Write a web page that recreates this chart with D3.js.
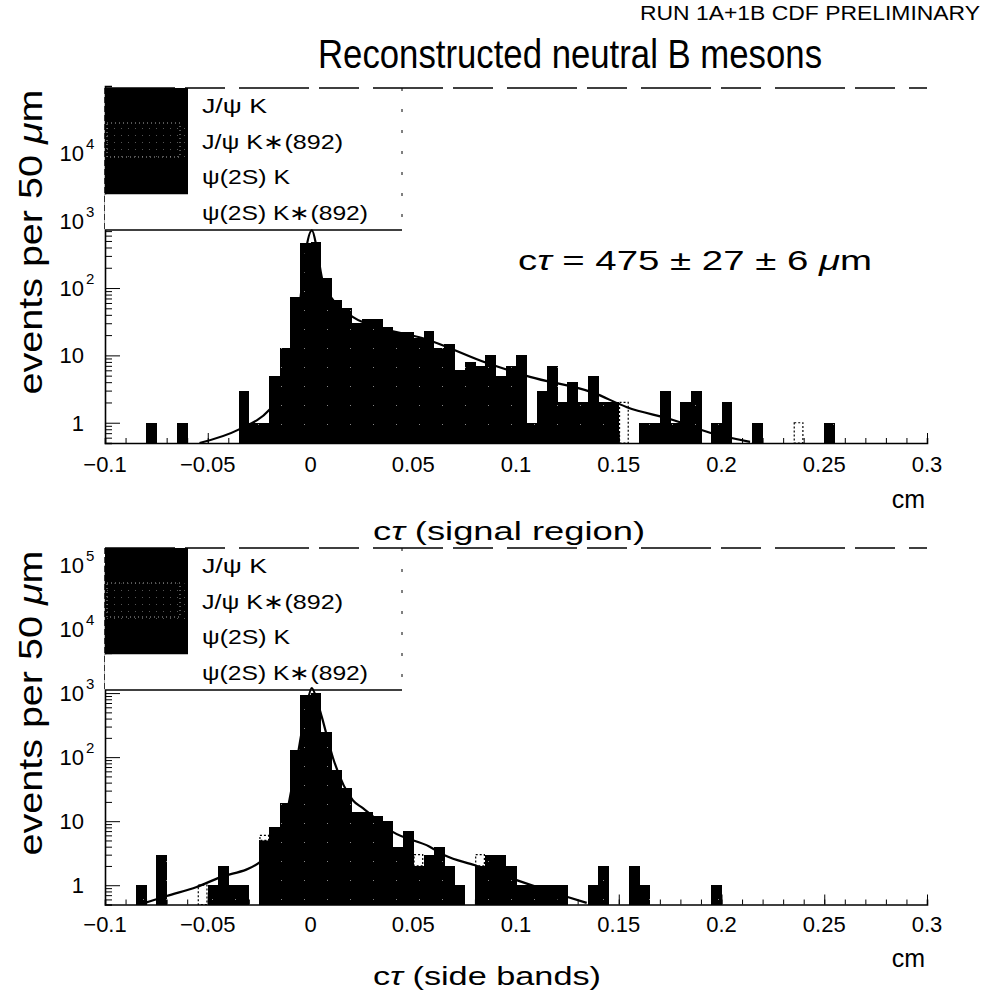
<!DOCTYPE html>
<html>
<head>
<meta charset="utf-8">
<script src="https://cdn.jsdelivr.net/npm/d3@7"></script>
<style>
body { margin: 0; background: #fff; }
svg { display: block; font-family: "Liberation Sans", Arial, sans-serif; }
</style>
</head>
<body>
<svg id="chart" width="984" height="998"></svg>
<script>
// 80 bins of 50 um (0.005 cm) from -0.1 to 0.3 cm
const binStart = -0.1, binWidth = 0.005;

const signalCounts = [
  0, 0, 0, 0, 1, 0, 0, 1, 0, 0,
  0, 0, 0, 3, 1, 1, 5, 13, 73, 460,
  480, 140, 66, 50, 30, 35, 35, 26, 22, 22,
  18, 23, 13, 15, 6, 8, 7, 10, 5, 7,
  10, 1, 3, 7, 2, 4, 2, 5, 2, 2,
  2, 0, 1, 1, 3, 1, 2, 3, 0, 1,
  2, 0, 0, 1, 0, 0, 0, 1, 0, 0,
  1, 0, 0, 0, 0, 0, 0, 0, 0, 0
];
const signalHollowBins = [50, 67];
const signalHollowCounts = [2, 1];

const sideCounts = [
  0, 0, 0, 1, 0, 3, 0, 0, 0, 1,
  1, 2, 1, 1, 0, 6, 8, 19, 130, 930,
  1000, 250, 63, 33, 14, 14, 12, 10, 4, 7,
  3, 3, 4, 2, 1, 0, 3, 3, 3, 2,
  1, 1, 1, 1, 1, 0, 0, 1, 2, 0,
  0, 2, 1, 0, 0, 0, 0, 0, 0, 1,
  0, 0, 0, 0, 0, 0, 0, 0, 0, 0,
  0, 0, 0, 0, 0, 0, 0, 0, 0, 0
];
const sideHollowBins = [9, 15, 30, 36];
const sideHollowCounts = [1, 1, 1, 1];

// fit curves
const signalFitX = [-0.054, -0.035, -0.02, -0.01, -0.005, -0.002, 0.0007, 0.003, 0.0056, 0.011, 0.0207, 0.0353, 0.0547, 0.0859, 0.1068, 0.1375, 0.154, 0.1764, 0.1944, 0.2139];
const signalFitY = [0.5, 0.79, 1.56, 4.3, 66, 400, 720, 400, 140, 66, 37, 25, 18, 7.7, 4.8, 2.8, 1.7, 1.1, 0.71, 0.52];
const sideFitX = [-0.0797, -0.07, -0.0554, -0.045, -0.0246, -0.015, -0.0075, -0.002, 0.0006, 0.003, 0.0055, 0.011, 0.0207, 0.0255, 0.04, 0.058, 0.0655, 0.08, 0.1003, 0.1247, 0.1344];
const sideFitY = [0.54, 0.68, 0.94, 1.29, 2.3, 5, 63, 600, 1200, 800, 426, 96, 21, 16, 6.8, 4.0, 2.9, 2.05, 1.2, 0.66, 0.53];

const xTicks = [-0.1, -0.05, 0, 0.05, 0.1, 0.15, 0.2, 0.25, 0.3];
const xTickLabels = ["\u22120.1", "\u22120.05", "0", "0.05", "0.1", "0.15", "0.2", "0.25", "0.3"];
const yDecades = [1, 10, 100, 1000, 10000, 100000];
const yLabelBase = ["1", "10", "10", "10", "10", "10"];
const yLabelExp = ["", "", "2", "3", "4", "5"];
const legendLabels = ["J/\u03c8 K", "J/\u03c8 K\u2217(892)", "\u03c8(2S) K", "\u03c8(2S) K\u2217(892)"];
const legendWidths = [65, 141, 88, 166];

const svg = d3.select('#chart');
const defs = svg.append('defs');

// black with very sparse white specks (scanned look of the stacked fill)
let speck = defs.append('pattern').attr('id', 'speck')
  .attr('patternUnits', 'userSpaceOnUse').attr('width', 23).attr('height', 19);
speck.append('rect').attr('width', 23).attr('height', 19).attr('fill', '#000');
speck.append('rect').attr('x', 5).attr('y', 6).attr('width', 1).attr('height', 1).attr('fill', '#888');

let dots = defs.append('pattern').attr('id', 'dots')
  .attr('patternUnits', 'userSpaceOnUse').attr('width', 7).attr('height', 7);
dots.append('rect').attr('width', 7).attr('height', 7).attr('fill', '#000');
dots.append('rect').attr('x', 2).attr('y', 2).attr('width', 1).attr('height', 1).attr('fill', '#555');

const x = d3.scaleLinear().domain([-0.1, 0.3]).range([105, 927]);

svg.append('text').attr('x', 980).attr('y', 20).attr('text-anchor', 'end')
  .attr('font-size', 20).attr('textLength', 340).attr('lengthAdjust', 'spacingAndGlyphs')
  .text('RUN 1A+1B CDF PRELIMINARY');
svg.append('text').attr('x', 570).attr('y', 68).attr('text-anchor', 'middle')
  .attr('font-size', 40).attr('textLength', 504).attr('lengthAdjust', 'spacingAndGlyphs')
  .text('Reconstructed neutral B mesons');

function drawPanel(p) {
  const y = d3.scaleLog().domain([0.5, 1e5]).range(p.yRange);
  const base = y(0.5);
  const g = svg.append('g');

  // histogram
  const bins = p.counts.map((c, i) => {
    const k = p.hollowBins.indexOf(i);
    const h = k >= 0 ? p.hollowCounts[k] : 0;
    return { i: i, lo: binStart + i * binWidth, c: c, solid: c - h, h: h };
  }).filter(d => d.c > 0);

  g.selectAll('.bar').data(bins.filter(d => d.solid > 0)).enter().append('rect')
    .attr('class', 'bar')
    .attr('x', d => x(d.lo))
    .attr('width', d => x(d.lo + binWidth) - x(d.lo) + 0.6)
    .attr('y', d => y(d.solid))
    .attr('height', d => base - y(d.solid))
    .attr('fill', 'url(#speck)')
    .attr('shape-rendering', 'crispEdges');

  g.selectAll('.hollow').data(bins.filter(d => d.h > 0)).enter().append('rect')
    .attr('class', 'hollow')
    .attr('x', d => x(d.lo) + 0.8)
    .attr('width', d => x(d.lo + binWidth) - x(d.lo) - 1.6)
    .attr('y', d => y(d.c))
    .attr('height', d => (d.solid > 0 ? y(d.solid) : base) - y(d.c))
    .attr('fill', '#fff').attr('stroke', '#000').attr('stroke-width', 1.2)
    .attr('stroke-dasharray', '2,2');

  // fit
  const fit = d3.zip(p.fitX, p.fitY);
  g.append('path').datum(fit)
    .attr('d', d3.line().x(d => x(d[0])).y(d => y(d[1])).curve(d3.curveMonotoneX))
    .attr('fill', 'none').attr('stroke', '#000').attr('stroke-width', 2.2);

  // x axis with ticks pointing up
  g.append('g').attr('transform', 'translate(0,' + base + ')')
    .call(d3.axisBottom(x).tickValues(d3.range(-0.1, 0.3001, 0.01)).tickSize(-5).tickFormat(''))
    .call(a => a.select('.domain').attr('stroke-width', 1.6));
  g.append('g').attr('transform', 'translate(0,' + base + ')')
    .call(d3.axisBottom(x).tickValues(xTicks).tickSize(-10).tickFormat(''))
    .call(a => a.select('.domain').remove());
  g.selectAll('.xlab').data(xTicks).enter().append('text')
    .attr('x', d => x(d)).attr('y', p.tickLabelY).attr('text-anchor', 'middle')
    .attr('font-size', 22).text((d, i) => xTickLabels[i]);

  // y axis on the left with ticks pointing inside
  const decades = yDecades.filter(v => v <= p.maxLabel);
  const minor = [];
  [0.1, 1, 10, 100, 1000, 10000].forEach(dv => d3.range(2, 10).forEach(m => {
    const v = dv * m;
    if (v > 0.5 && v < 1e5) minor.push(v);
  }));
  g.append('g').attr('transform', 'translate(105,0)')
    .call(d3.axisRight(y).tickValues(minor).tickSize(7).tickFormat(''))
    .call(a => a.select('.domain').attr('stroke-width', 1.6));
  g.append('g').attr('transform', 'translate(105,0)')
    .call(d3.axisRight(y).tickValues(decades).tickSize(15).tickFormat(''))
    .call(a => a.select('.domain').remove());
  decades.forEach((v, i) => {
    g.append('text').attr('x', 84).attr('y', y(v) + 8).attr('text-anchor', 'end')
      .attr('font-size', 22).text(yLabelBase[i]);
    if (yLabelExp[i]) {
      g.append('text').attr('x', 86).attr('y', y(v) - 4)
        .attr('font-size', 15).text(yLabelExp[i]);
    }
  });

  // frame top and legend
  g.append('line').attr('x1', 105).attr('x2', 927).attr('y1', p.frameTop).attr('y2', p.frameTop)
    .attr('stroke', '#000').attr('stroke-width', 1.5).attr('stroke-dasharray', '70,10,40,14');
  g.append('line').attr('x1', 105).attr('x2', 105).attr('y1', p.frameTop).attr('y2', p.frameTop + 4 * 35.5)
    .attr('stroke', '#000').attr('stroke-width', 1.4).attr('stroke-dasharray', '6,3');
  const rowH = 35.5;
  const fills = ['#000', 'url(#dots)', '#000', '#fff'];
  legendLabels.forEach((lab, i) => {
    const ry = p.frameTop + i * rowH;
    g.append('rect').attr('x', 105).attr('y', ry).attr('width', 83).attr('height', rowH + (i < 2 ? 0.5 : 0))
      .attr('fill', fills[i]);
    g.append('text').attr('x', 202).attr('y', ry + 25).attr('font-size', 21)
      .attr('textLength', legendWidths[i]).attr('lengthAdjust', 'spacingAndGlyphs').text(lab);
  });
  g.append('rect').attr('x', 107).attr('y', p.frameTop + 35).attr('width', 73).attr('height', 34)
    .attr('fill', 'none').attr('stroke', '#aaa').attr('stroke-width', 1).attr('stroke-dasharray', '1,3');
  g.append('line').attr('x1', 105).attr('x2', 402).attr('y1', p.frameTop + 4 * rowH).attr('y2', p.frameTop + 4 * rowH)
    .attr('stroke', '#000').attr('stroke-width', 1.6);
  g.append('line').attr('x1', 402).attr('x2', 402).attr('y1', p.frameTop).attr('y2', p.frameTop + 4 * rowH)
    .attr('stroke', '#000').attr('stroke-width', 1).attr('stroke-dasharray', '3,18');

  // axis titles
  g.append('text').attr('transform', 'translate(42,' + p.yLabelCenter + ') rotate(-90)')
    .attr('text-anchor', 'middle').attr('font-size', 34)
    .attr('textLength', 305).attr('lengthAdjust', 'spacingAndGlyphs')
    .html('events per 50 <tspan font-style="italic">\u03bc</tspan>m');
  g.append('text').attr('x', 925).attr('y', p.cmY).attr('text-anchor', 'end').attr('font-size', 25).text('cm');
  g.append('text').attr('x', p.xLabelX).attr('y', p.xLabelY).attr('font-size', 25)
    .attr('textLength', p.xLabelLen).attr('lengthAdjust', 'spacingAndGlyphs')
    .html('c<tspan font-style="italic">\u03c4</tspan> ' + p.xLabel);
  return y;
}

drawPanel({
  counts: signalCounts, hollowBins: signalHollowBins, hollowCounts: signalHollowCounts,
  fitX: signalFitX, fitY: signalFitY,
  yRange: [443, 86], maxLabel: 10000, frameTop: 88,
  tickLabelY: 472, cmY: 508, xLabel: '(signal region)', xLabelX: 373, xLabelY: 540, xLabelLen: 272,
  yLabelCenter: 242
});

drawPanel({
  counts: sideCounts, hollowBins: sideHollowBins, hollowCounts: sideHollowCounts,
  fitX: sideFitX, fitY: sideFitY,
  yRange: [904.5, 565], maxLabel: 100000, frameTop: 548,
  tickLabelY: 932, cmY: 967, xLabel: '(side bands)', xLabelX: 373, xLabelY: 985, xLabelLen: 228,
  yLabelCenter: 703
});

svg.append('text').attr('x', 518).attr('y', 270).attr('font-size', 27)
  .attr('textLength', 354).attr('lengthAdjust', 'spacingAndGlyphs')
  .html('c<tspan font-style="italic">\u03c4</tspan> = 475 \u00b1 27 \u00b1 6 <tspan font-style="italic">\u03bc</tspan>m');
</script>
</body>
</html>
